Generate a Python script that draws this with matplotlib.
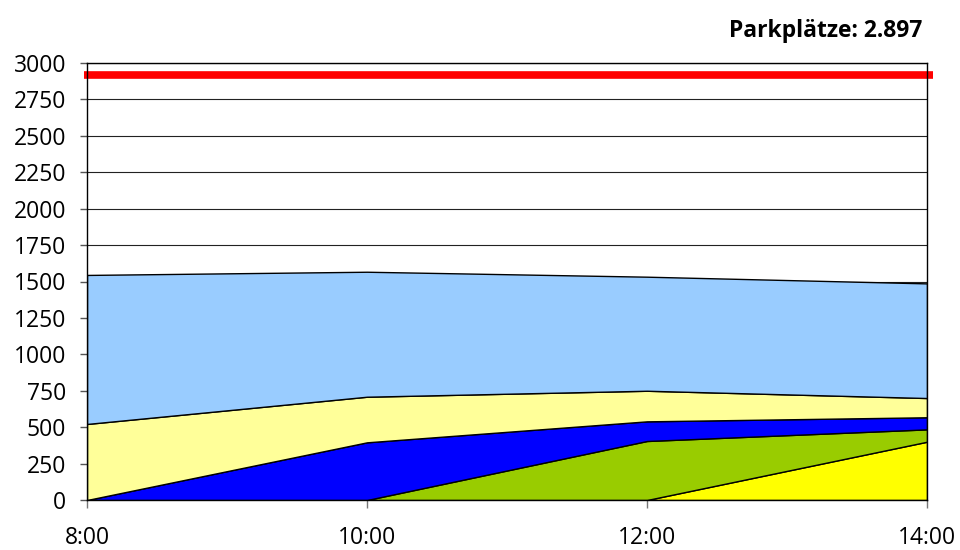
import numpy as np
import matplotlib.pyplot as plt

plt.rcParams["font.family"] = ["Open Sans", "DejaVu Sans"]

# data
times = ["8:00", "10:00", "12:00", "14:00"]
gelb = [0, 0, 0, 400]
gruen = [0, 0, 405, 85]
blau = [0, 396, 135, 83]
hellgelb = [522, 313, 210, 132]
hellblau = [1023, 858, 783, 787]
parkplaetze = 2920
title_text = "Parkplätze: 2.897"

colors = ["#FFFF00", "#99CC00", "#0000FF", "#FFFF99", "#99CCFF"]

fig = plt.figure(figsize=(9.6, 5.5), dpi=100)
ax = fig.add_axes([87 / 960, 1 - 500 / 550, 840 / 960, 437 / 550])

x = np.arange(len(times))
ax.stackplot(x, gelb, gruen, blau, hellgelb, hellblau, colors=colors,
             edgecolor="black", linewidth=1.0, zorder=2)

ax.plot([x[0] - 0.01, x[-1] + 0.02], [parkplaetze, parkplaetze], color="#FF0000",
        linewidth=5.5, solid_capstyle="butt", clip_on=False, zorder=4)

ax.set_xlim(x[0], x[-1])
ax.set_ylim(0, 3000)
ax.set_yticks(np.arange(0, 3001, 250))
ax.set_xticks(x)
ax.set_xticklabels(times)

ax.grid(axis="y", color="#222222", linewidth=0.8, zorder=0)
ax.set_axisbelow(True)

for s in ax.spines.values():
    s.set_color("black")
    s.set_linewidth(1.0)
    s.set_zorder(5)

ax.tick_params(axis="y", direction="out", length=5, width=1, color="#555555",
               labelsize=16.5, pad=10)
ax.tick_params(axis="x", direction="out", length=6, width=1, color="#777777",
               labelsize=16.5, pad=13)

fig.text(922 / 960, 1 - 31 / 550, title_text, ha="right", va="center",
         fontsize=16.5, fontweight="bold")

plt.savefig("out.png", dpi=100)
